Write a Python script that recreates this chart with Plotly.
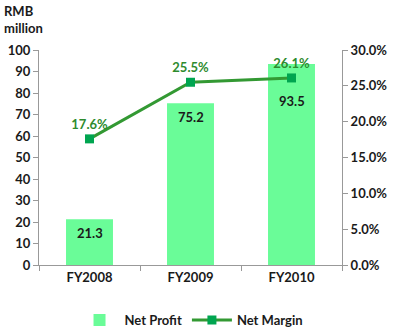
import plotly.graph_objects as go

categories = ["FY2008", "FY2009", "FY2010"]
net_profit = [21.3, 75.2, 93.5]
net_margin = [0.176, 0.255, 0.261]
profit_labels = ["21.3", "75.2", "93.5"]
margin_labels = ["17.6%", "25.5%", "26.1%"]

font_family = "Lato, 'Open Sans', Arial, sans-serif"
fs = 13
dark = "#1a1a1a"

fig = go.Figure()
fig.add_trace(go.Bar(
    x=categories, y=net_profit, name="<b>Net Profit</b>",
    marker=dict(color="#6afc98", line=dict(width=0)),
    yaxis="y",
))
fig.add_trace(go.Scatter(
    x=categories, y=net_margin, name="<b>Net Margin</b>",
    mode="lines+markers+text",
    line=dict(color="#339933", width=3),
    marker=dict(symbol="square", size=9, color="#00a550"),
    text=margin_labels, texttemplate="<b>%{text}</b>", textposition="top center",
    textfont=dict(color="#2e8b2e", size=fs, family=font_family),
    yaxis="y2",
))

label_shift = [-14, -14, -37]
annotations = [
    dict(x=c, y=v, xref="x", yref="y", text="<b>%s</b>" % t, showarrow=False,
         yshift=s, font=dict(size=fs, color=dark, family=font_family))
    for c, v, t, s in zip(categories, net_profit, profit_labels, label_shift)
]
annotations.append(
    dict(text="<b>RMB<br>million</b>", xref="paper", yref="paper", x=-37/303, y=1 + 49/215,
         xanchor="left", yanchor="top", align="left", showarrow=False,
         font=dict(size=fs, color=dark, family=font_family)))

tf = dict(size=fs, color=dark, family=font_family)
fig.update_layout(
    width=399, height=334,
    margin=dict(l=39, r=57, t=50, b=69, autoexpand=False),
    paper_bgcolor="white", plot_bgcolor="rgba(0,0,0,0)",
    font=dict(family=font_family, size=fs, color=dark),
    bargap=0.535,
    showlegend=True,
    legend=dict(orientation="h", x=0.48, xanchor="center", xref="container",
                y=14/334, yref="container", yanchor="middle",
                font=dict(size=fs, color=dark), traceorder="normal", itemwidth=40),
    xaxis=dict(
        type="category", showgrid=False, showline=True, linecolor="#999999", linewidth=1,
        ticks="outside", ticklen=5, tickcolor="#999999", tickson="boundaries",
        tickfont=tf, tickprefix="<b>", ticksuffix="</b>",
    ),
    yaxis=dict(
        range=[0, 100], dtick=10, showgrid=False, showline=True, linecolor="#999999",
        ticks="outside", ticklen=5, tickcolor="#999999", zeroline=False,
        tickfont=tf, tickprefix="<b>", ticksuffix="</b>",
    ),
    yaxis2=dict(
        range=[0, 0.3], dtick=0.05, tickformat=".1%", overlaying="y", side="right",
        showgrid=False, showline=True, linecolor="#999999",
        ticks="outside", ticklen=5, tickcolor="#999999", zeroline=False,
        tickfont=tf, tickprefix="<b>", ticksuffix="</b>",
    ),
    annotations=annotations,
)

fig.write_html("out.html")
